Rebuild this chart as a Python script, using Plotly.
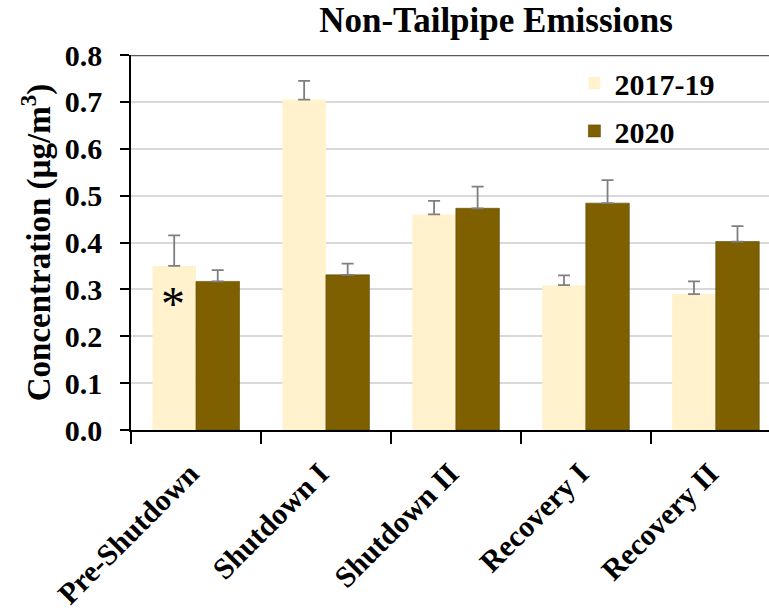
import plotly.graph_objects as go

# Study periods and mean concentrations (µg/m³) with upper error bars
periods = ["Pre-Shutdown", "Shutdown I", "Shutdown II", "Recovery I", "Recovery II"]
base_years = [0.350, 0.705, 0.460, 0.309, 0.290]
base_err = [0.065, 0.040, 0.029, 0.021, 0.027]
year_2020 = [0.317, 0.331, 0.473, 0.484, 0.402]
err_2020 = [0.024, 0.024, 0.046, 0.049, 0.033]

y_ticks = [0.0, 0.1, 0.2, 0.3, 0.4, 0.5, 0.6, 0.7, 0.8]
y_tick_text = ["0.0", "0.1", "0.2", "0.3", "0.4", "0.5", "0.6", "0.7", "0.8"]

# Significance marker placed inside the first bar
star_period = "Pre-Shutdown"
star_value = 0.284

FONT = "Liberation Serif"
LIGHT = "#FFF2CC"
DARK = "#7F6000"
ERR = "#7F7F7F"

fig = go.Figure()
fig.add_trace(go.Bar(
    name="2017-19", x=periods, y=base_years, legendgroup="a",
    marker=dict(color=LIGHT, line=dict(width=0)),
    error_y=dict(type="data", array=base_err, arrayminus=[0] * len(base_err),
                 symmetric=False, color=ERR, thickness=1.8, width=6),
))
fig.add_trace(go.Bar(
    name="2020", x=periods, y=year_2020, legendgroup="b",
    marker=dict(color=DARK, line=dict(width=0.6, color="#5f4800")),
    error_y=dict(type="data", array=err_2020, arrayminus=[0] * len(err_2020),
                 symmetric=False, color=ERR, thickness=1.8, width=6),
))

# Dark frame line along the top of the plotting area
fig.add_shape(type="line", xref="paper", yref="y", x0=0, x1=1,
              y0=y_ticks[-1], y1=y_ticks[-1],
              line=dict(color="#595959", width=2.5), layer="above")

fig.add_annotation(x=star_period, y=star_value, xref="x", yref="y",
                   text="*", showarrow=False, xshift=-23, yshift=-7,
                   font=dict(family=FONT, size=48, color="black"))

fig.update_layout(
    width=769, height=610,
    margin=dict(l=131, r=0, t=55, b=180, pad=0),
    paper_bgcolor="white", plot_bgcolor="white",
    barmode="group", bargap=0.33, bargroupgap=0,
    font=dict(family=FONT, color="black"),
    title=dict(text="<b>Non-Tailpipe Emissions</b>", x=0.645, xanchor="center",
               y=0.988, yanchor="top",
               font=dict(family=FONT, size=35, color="black")),
    legend=dict(x=0.695, y=0.995, xanchor="left", yanchor="top",
                bgcolor="rgba(0,0,0,0)", tracegroupgap=6,
                font=dict(family=FONT, size=30, color="black", weight="bold")),
    showlegend=True,
)

fig.update_xaxes(
    type="category", range=[-0.5, 4.41],
    showline=True, linecolor="black", linewidth=2,
    ticks="outside", tickson="boundaries", ticklen=12, tickwidth=1.5, tickcolor="black",
    tickangle=-45, showgrid=False, ticklabelstandoff=12, ticklabelshift=-6,
    tickfont=dict(family=FONT, size=30, color="black", weight="bold"),
)
fig.update_yaxes(
    range=[0, 0.8], tickvals=y_ticks, ticktext=y_tick_text,
    showline=True, linecolor="black", linewidth=1.5,
    ticks="outside", ticklen=9, tickwidth=1.5, tickcolor="black",
    showgrid=True, gridcolor="#D9D9D9", gridwidth=1.5, zeroline=False,
    ticklabelstandoff=12,
    tickfont=dict(family=FONT, size=30, color="black", weight="bold"),
    title=dict(text="<b>Concentration (µg/m<sup>3</sup>)</b>", standoff=4,
               font=dict(family=FONT, size=33, color="black")),
)

fig.write_html("out.html")
